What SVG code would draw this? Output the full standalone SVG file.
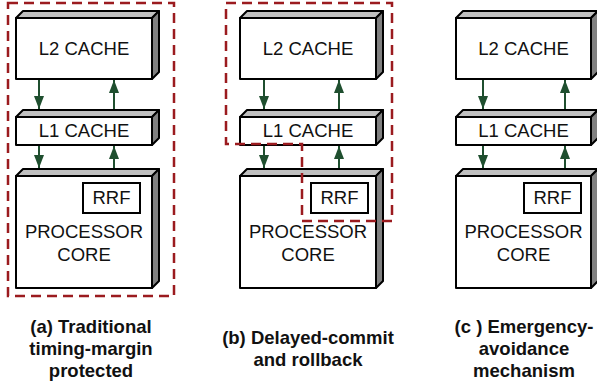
<svg xmlns="http://www.w3.org/2000/svg" width="597" height="383" viewBox="0 0 597 383">
<defs>
<style>
.front{fill:#fff;stroke:#000;stroke-width:2;stroke-linejoin:round}
.top{fill:#c0c0c0;stroke:#000;stroke-width:2;stroke-linejoin:round}
.side{fill:#808080;stroke:#000;stroke-width:2;stroke-linejoin:round}
.rrf{fill:#fff;stroke:#000;stroke-width:2}
.lbl{font-family:"Liberation Sans",Arial,sans-serif;font-size:18.5px;fill:#111;text-anchor:middle}
.cap{font-family:"Liberation Sans",Arial,sans-serif;font-size:18.5px;font-weight:bold;fill:#111;text-anchor:middle}
.dash{fill:none;stroke:#9b1b1f;stroke-width:2.5;stroke-dasharray:10 6}
.arr{stroke:#1f4f2f;stroke-width:2;fill:none;marker-end:url(#ah)}
</style>
<marker id="ah" viewBox="0 0 13 10" refX="13" refY="5" markerWidth="13" markerHeight="10" markerUnits="userSpaceOnUse" orient="auto">
<path d="M0,0 L13,5 L0,10 z" fill="#1f4f2f"/>
</marker>
</defs>

<!-- Panel (a) -->
<g id="a-boundary"><rect class="dash" x="8" y="3" width="166" height="293"/></g>
<g id="a-l2">
<rect class="front" x="16" y="18" width="136" height="61"/>
<path class="top" d="M16,18 L23,11 L159,11 L152,18 Z"/>
<path class="side" d="M152,18 L159,11 L159,72 L152,79 Z"/>
<text class="lbl" x="84" y="55">L2 CACHE</text>
</g>
<g id="a-l1">
<rect class="front" x="16" y="117" width="136" height="28"/>
<path class="top" d="M16,117 L23,110 L159,110 L152,117 Z"/>
<path class="side" d="M152,117 L159,110 L159,138 L152,145 Z"/>
<text class="lbl" x="84" y="137">L1 CACHE</text>
</g>
<g id="a-core">
<rect class="front" x="16" y="176" width="136" height="112"/>
<path class="top" d="M16,176 L23,169 L159,169 L152,176 Z"/>
<path class="side" d="M152,176 L159,169 L159,281 L152,288 Z"/>
<rect class="rrf" x="83" y="183" width="57" height="30"/>
<text class="lbl" x="111.5" y="204">RRF</text>
<text class="lbl" x="84" y="238">PROCESSOR</text>
<text class="lbl" x="84" y="261">CORE</text>
</g>
<g id="a-caption">
<text class="cap" x="91" y="333">(a) Traditional</text>
<text class="cap" x="91" y="355">timing-margin</text>
<text class="cap" x="91" y="377">protected</text>
</g>

<!-- Panel (b) -->
<g id="b-l2">
<rect class="front" x="240" y="18" width="136" height="61"/>
<path class="top" d="M240,18 L247,11 L383,11 L376,18 Z"/>
<path class="side" d="M376,18 L383,11 L383,72 L376,79 Z"/>
<text class="lbl" x="308" y="55">L2 CACHE</text>
</g>
<g id="b-l1">
<rect class="front" x="240" y="117" width="136" height="28"/>
<path class="top" d="M240,117 L247,110 L383,110 L376,117 Z"/>
<path class="side" d="M376,117 L383,110 L383,138 L376,145 Z"/>
<text class="lbl" x="308" y="137">L1 CACHE</text>
</g>
<g id="b-core">
<rect class="front" x="240" y="176" width="136" height="112"/>
<path class="top" d="M240,176 L247,169 L383,169 L376,176 Z"/>
<path class="side" d="M376,176 L383,169 L383,281 L376,288 Z"/>
<rect class="rrf" x="311" y="183" width="57" height="30"/>
<text class="lbl" x="339.5" y="204">RRF</text>
<text class="lbl" x="308" y="238">PROCESSOR</text>
<text class="lbl" x="308" y="261">CORE</text>
</g>
<g id="b-boundary"><path class="dash" d="M226,3 L392,3 L392,221 L302,221 L302,144 L226,144 Z"/></g>
<g id="b-caption">
<text class="cap" x="308" y="344">(b) Delayed-commit</text>
<text class="cap" x="308" y="366">and rollback</text>
</g>

<!-- Panel (c) -->
<g id="c-l2">
<rect class="front" x="456" y="18" width="135" height="61"/>
<path class="top" d="M456,18 L463,11 L598,11 L591,18 Z"/>
<path class="side" d="M591,18 L598,11 L598,72 L591,79 Z"/>
<text class="lbl" x="523.5" y="55">L2 CACHE</text>
</g>
<g id="c-l1">
<rect class="front" x="456" y="117" width="135" height="28"/>
<path class="top" d="M456,117 L463,110 L598,110 L591,117 Z"/>
<path class="side" d="M591,117 L598,110 L598,138 L591,145 Z"/>
<text class="lbl" x="523.5" y="137">L1 CACHE</text>
</g>
<g id="c-core">
<rect class="front" x="456" y="176" width="135" height="112"/>
<path class="top" d="M456,176 L463,169 L598,169 L591,176 Z"/>
<path class="side" d="M591,176 L598,169 L598,281 L591,288 Z"/>
<rect class="rrf" x="524" y="183" width="57" height="30"/>
<text class="lbl" x="552.5" y="204">RRF</text>
<text class="lbl" x="523.5" y="238">PROCESSOR</text>
<text class="lbl" x="523.5" y="261">CORE</text>
</g>
<g id="c-caption">
<text class="cap" x="524" y="333">(c ) Emergency-</text>
<text class="cap" x="524" y="355">avoidance</text>
<text class="cap" x="524" y="377">mechanism</text>
</g>

<!-- Connectors -->
<g id="connectors">
<path class="arr" d="M39,80 L39,109"/>
<path class="arr" d="M114,109 L114,80"/>
<path class="arr" d="M39,146 L39,168"/>
<path class="arr" d="M114,168 L114,146"/>
<path class="arr" d="M264,80 L264,109"/>
<path class="arr" d="M339,109 L339,80"/>
<path class="arr" d="M264,146 L264,168"/>
<path class="arr" d="M339,168 L339,146"/>
<path class="arr" d="M483,80 L483,109"/>
<path class="arr" d="M565,109 L565,80"/>
<path class="arr" d="M483,146 L483,168"/>
<path class="arr" d="M565,168 L565,146"/>
</g>
</svg>
